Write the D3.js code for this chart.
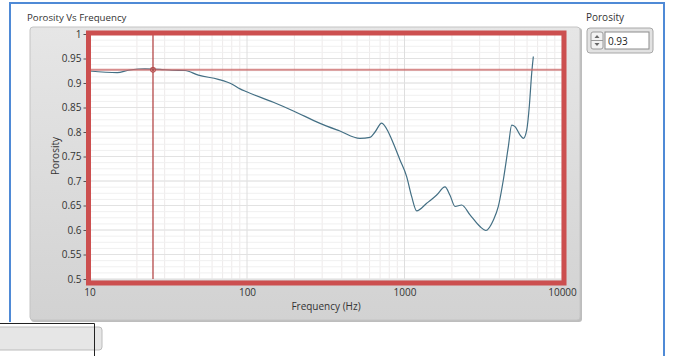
<!DOCTYPE html>
<html>
<head>
<meta charset="utf-8">
<script src="https://cdn.jsdelivr.net/npm/d3@7"></script>
<style>
  body { margin: 0; background: #fff; }
  svg { display: block; font-family: "Open Sans", sans-serif; }
</style>
</head>
<body>
<svg id="chart" width="673" height="356"></svg>
<script>
// data
var freqs = [10, 15, 17.6, 20.4, 22.5, 28, 33.4, 40.4, 49.1, 65.7, 80, 90.3, 99.5, 147, 197, 291, 389, 521, 604, 650, 716, 789, 849, 936,
  1032, 1111, 1195, 1383, 1601, 1807, 1945, 2094, 2307, 2606, 3016, 3291, 3663, 3942, 4241, 4563, 4794, 5030, 5411, 5679, 5970, 6199, 6421, 6577];
var porosity = [0.9245, 0.921, 0.926, 0.9286, 0.929, 0.928, 0.926, 0.9255, 0.916, 0.9075, 0.898, 0.888, 0.882, 0.8606, 0.843, 0.8177, 0.802, 0.787, 0.789, 0.80, 0.818, 0.80, 0.777, 0.743,
  0.709, 0.668, 0.639, 0.6545, 0.6714, 0.688, 0.671, 0.648, 0.651, 0.631, 0.607, 0.599, 0.620, 0.648, 0.702, 0.770, 0.814, 0.811, 0.794, 0.787, 0.804, 0.852, 0.92, 0.954];
var xTicks = [10, 100, 1000, 10000];
var yTicks = [0.5, 0.55, 0.6, 0.65, 0.7, 0.75, 0.8, 0.85, 0.9, 0.95, 1];
var cursorFreq = 25.3;
var cursorValue = 0.927;

var svg = d3.select("#chart");

var x = d3.scaleLog().domain([10, 10000]).range([89.5, 562]);
var y = d3.scaleLinear().domain([0.5, 1]).range([279, 34]);

// outer window frame
svg.append("path")
  .attr("d", "M10,322 V3 H664 V356")
  .attr("fill", "none").attr("stroke", "#4f8ad6").attr("stroke-width", 2);

// graph panel
var grad = svg.append("defs").append("linearGradient")
  .attr("id", "panel").attr("x1", 0).attr("x2", 0).attr("y1", 0).attr("y2", 1);
grad.append("stop").attr("offset", "0%").attr("stop-color", "#e6e6e6");
grad.append("stop").attr("offset", "100%").attr("stop-color", "#d2d2d2");

svg.append("rect")
  .attr("x", 31).attr("y", 28).attr("width", 551).attr("height", 294).attr("rx", 3)
  .attr("fill", "#bdbdbd");
svg.append("rect")
  .attr("x", 30).attr("y", 27).attr("width", 550).attr("height", 293).attr("rx", 3)
  .attr("fill", "url(#panel)").attr("stroke", "#c4c4c4");

svg.append("text")
  .attr("x", 27).attr("y", 21)
  .attr("font-size", 9.7).attr("fill", "#333")
  .text("Porosity Vs Frequency");

// plot background
svg.append("rect")
  .attr("x", x.range()[0]).attr("y", y.range()[1])
  .attr("width", x.range()[1] - x.range()[0]).attr("height", y.range()[0] - y.range()[1])
  .attr("fill", "#fff");

// grid
var grid = svg.append("g");
var minorX = [];
[10, 100, 1000].forEach(function(d){
  for (var k = 2; k < 10; k++) minorX.push(d * k);
});
grid.selectAll(".mx").data(minorX).enter().append("line")
  .attr("x1", d => x(d)).attr("x2", d => x(d))
  .attr("y1", y(1)).attr("y2", y(0.5))
  .attr("stroke", "#eeeaea").attr("stroke-width", 1);
var minorY = d3.range(0, 40).map(i => 0.5 + i * 0.0125);
grid.selectAll(".my").data(minorY).enter().append("line")
  .attr("x1", x(10)).attr("x2", x(10000))
  .attr("y1", d => y(d)).attr("y2", d => y(d))
  .attr("stroke", "#f0f0f0").attr("stroke-width", 1);
grid.selectAll(".gx").data(xTicks).enter().append("line")
  .attr("x1", d => x(d)).attr("x2", d => x(d))
  .attr("y1", y(1)).attr("y2", y(0.5))
  .attr("stroke", "#dedede").attr("stroke-width", 1);
grid.selectAll(".gy").data(yTicks).enter().append("line")
  .attr("x1", x(10)).attr("x2", x(10000))
  .attr("y1", d => y(d)).attr("y2", d => y(d))
  .attr("stroke", "#e2e2e2").attr("stroke-width", 1);

// axes
var yAxis = svg.append("g")
  .attr("transform", "translate(" + (x(10) - 3) + ",0)")
  .call(d3.axisLeft(y).tickValues(yTicks).tickFormat(d3.format("~g")).tickSize(3).tickPadding(2));
var xAxis = svg.append("g")
  .attr("transform", "translate(0," + (y(0.5) + 4) + ")")
  .call(d3.axisBottom(x).tickValues(xTicks).tickFormat(d3.format("d")).tickSize(0).tickPadding(6));
[xAxis, yAxis].forEach(function(a){
  a.select(".domain").remove();
  a.selectAll("text").attr("font-size", 10).attr("fill", "#333").attr("font-family", "Open Sans, sans-serif");
  a.selectAll("line").attr("stroke", "#555");
});

svg.append("text")
  .attr("transform", "translate(59,156) rotate(-90)")
  .attr("text-anchor", "middle").attr("font-size", 10).attr("fill", "#333")
  .text("Porosity");
svg.append("text")
  .attr("x", 326).attr("y", 310)
  .attr("text-anchor", "middle").attr("font-size", 10).attr("fill", "#333")
  .text("Frequency (Hz)");

// curve
var line = d3.line()
  .x((d, i) => x(freqs[i]))
  .y(d => y(d))
  .curve(d3.curveMonotoneX);
svg.append("path")
  .datum(porosity)
  .attr("d", line)
  .attr("fill", "none").attr("stroke", "#436f84").attr("stroke-width", 1.2);

// cursor
svg.append("line")
  .attr("x1", x(10)).attr("x2", x(10000))
  .attr("y1", y(cursorValue)).attr("y2", y(cursorValue))
  .attr("stroke", "#c96666").attr("stroke-opacity", 0.75).attr("stroke-width", 1.8);
svg.append("line")
  .attr("x1", x(cursorFreq)).attr("x2", x(cursorFreq))
  .attr("y1", y(1)).attr("y2", y(0.5))
  .attr("stroke", "#b54848").attr("stroke-width", 1.3);
var cx = x(cursorFreq), cy = y(cursorValue);
svg.append("circle").attr("cx", cx).attr("cy", cy).attr("r", 2.5)
  .attr("fill", "none").attr("stroke", "#b54848").attr("stroke-width", 1);
svg.append("path")
  .attr("d", "M" + (cx - 2) + "," + (cy - 2) + "l4,4M" + (cx + 2) + "," + (cy - 2) + "l-4,4")
  .attr("stroke", "#b54848").attr("stroke-width", 0.8);

// red highlight frame round plot area
svg.append("rect")
  .attr("x", 88.5).attr("y", 33).attr("width", 475.5).attr("height", 250)
  .attr("fill", "none").attr("stroke", "#cc4f4f").attr("stroke-width", 5);

// porosity indicator
svg.append("text")
  .attr("x", 586).attr("y", 21)
  .attr("font-size", 10).attr("fill", "#333")
  .text("Porosity");
svg.append("rect")
  .attr("x", 587).attr("y", 28).attr("width", 66).attr("height", 25).attr("rx", 3)
  .attr("fill", "#e2e2e2").attr("stroke", "#a8a8a8");
svg.append("rect")
  .attr("x", 605).attr("y", 32).attr("width", 44).attr("height", 17)
  .attr("fill", "#fff").attr("stroke", "#8c8c8c");
svg.append("rect")
  .attr("x", 591).attr("y", 32).attr("width", 12).attr("height", 17).attr("rx", 2)
  .attr("fill", "#f2f2f2").attr("stroke", "#9a9a9a");
svg.append("line").attr("x1", 591).attr("x2", 603).attr("y1", 40.5).attr("y2", 40.5).attr("stroke", "#9a9a9a");
svg.append("path").attr("d", "M594.5,38 L597,35 L599.5,38 Z").attr("fill", "#666");
svg.append("path").attr("d", "M594.5,43 L597,46 L599.5,43 Z").attr("fill", "#666");
svg.append("text")
  .attr("x", 608).attr("y", 44.5)
  .attr("font-size", 10).attr("fill", "#222")
  .text("0.93");

// partial control at bottom left
svg.append("rect")
  .attr("x", -10).attr("y", 327).attr("width", 112).attr("height", 23).attr("rx", 3)
  .attr("fill", "#e6e6e6").attr("stroke", "#bcbcbc");
svg.append("path")
  .attr("d", "M0,323.5 H94.5 V356")
  .attr("fill", "none").attr("stroke", "#222").attr("stroke-width", 1);
</script>
</body>
</html>
